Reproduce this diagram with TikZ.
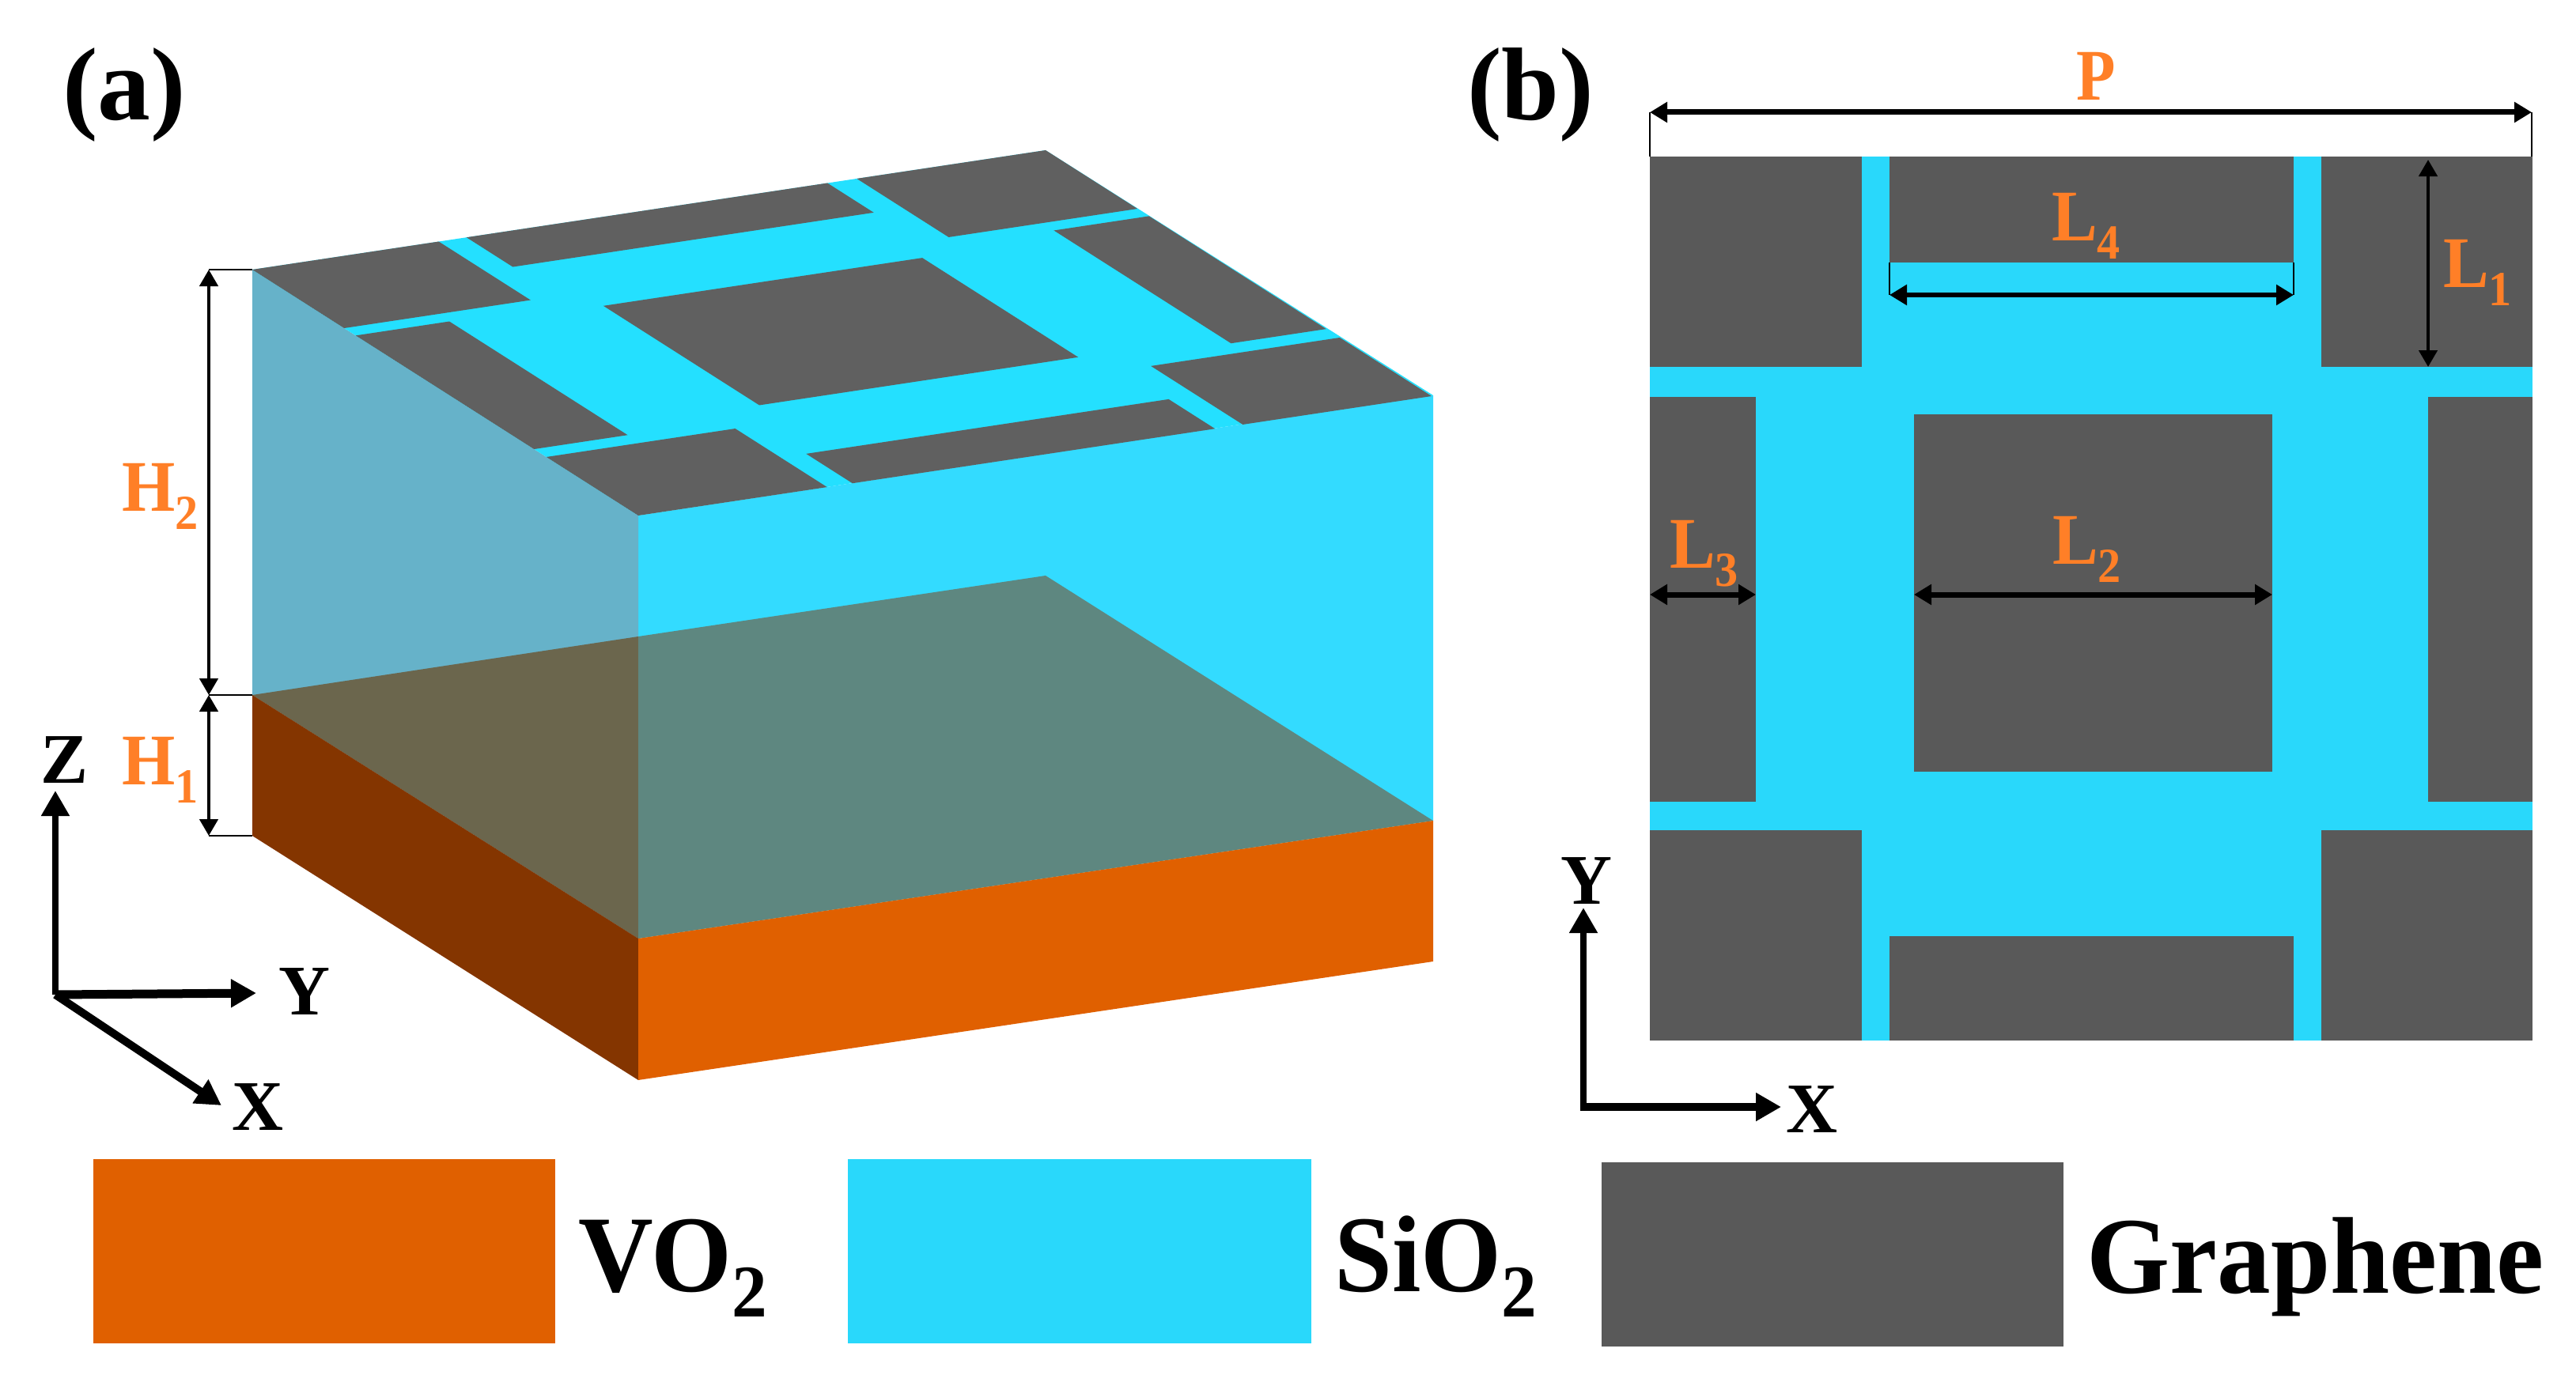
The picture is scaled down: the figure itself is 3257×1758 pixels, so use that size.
\documentclass[tikz,border=0pt]{standalone}
\usepackage{graphicx}
\usepackage{fontspec}
\setmainfont{Liberation Serif}
\usetikzlibrary{arrows.meta}
\definecolor{vofront}{HTML}{E06000}
\definecolor{voside}{HTML}{843500}
\definecolor{sifront}{HTML}{33DBFF}
\definecolor{siside}{HTML}{66B2C9}
\definecolor{sitop}{HTML}{24E0FF}
\definecolor{siplan}{HTML}{29D8FB}
\definecolor{ifleft}{HTML}{6B664D}
\definecolor{ifright}{HTML}{5E8780}
\definecolor{gtop}{HTML}{606060}
\definecolor{gplan}{HTML}{595959}
\definecolor{dimorange}{HTML}{FF7F27}
\newcommand{\isopad}[4]{\fill[gtop]
  ({319+488*#1+1003*#3},{341+311*#1-151*#3}) --
  ({319+488*#2+1003*#3},{341+311*#2-151*#3}) --
  ({319+488*#2+1003*#4},{341+311*#2-151*#4}) --
  ({319+488*#1+1003*#4},{341+311*#1-151*#4}) -- cycle;}
\newcommand{\planpad}[4]{\fill[gplan] (#1,#2) rectangle (#3,#4);}
\newcommand{\dimsub}[2]{\scalebox{.94}[1]{#1\raisebox{-23pt}{\fontsize{62}{62}\selectfont #2}}}
\newcommand{\legsub}[2]{\scalebox{.95}[1]{#1\raisebox{-32pt}{\fontsize{94}{94}\selectfont #2}}}
\tikzset{
  dimtxt/.style={anchor=base west,inner sep=0pt,text=dimorange,font=\fontsize{92}{92}\selectfont\bfseries},
  axtxt/.style={anchor=base west,inner sep=0pt,text=black,font=\fontsize{90}{90}\selectfont\bfseries},
  bigtxt/.style={anchor=base west,inner sep=0pt,text=black,font=\fontsize{131}{131}\selectfont\bfseries},
  legtxt/.style={anchor=base west,inner sep=0pt,text=black,font=\fontsize{138}{138}\selectfont\bfseries},
  dimthin/.style={line width=4.5pt,{Triangle[length=21pt,width=23pt]}-{Triangle[length=21pt,width=23pt]}},
  dimwide/.style={line width=7pt,{Triangle[length=22pt,width=25pt]}-{Triangle[length=22pt,width=25pt]}},
  tick/.style={line width=2.5pt,black},
  axis/.style={line width=8pt,-{Triangle[length=32pt,width=34pt]}},
  axisthick/.style={line width=11pt,-{Triangle[length=32pt,width=34pt]}},
}
\begin{document}
\begin{tikzpicture}[x=1pt,y=-1pt]
\useasboundingbox (0,0) rectangle (3257,1758);
% --- (a) block ---
\fill[sifront] (807,652) -- (1812,500) -- (1812,1038) -- (807,1187) -- cycle;
\fill[siside] (319,341) -- (807,652) -- (807,1187) -- (319,879) -- cycle;
\fill[ifleft] (319,879) -- (807,805) -- (807,1187) -- cycle;
\fill[ifright] (807,805) -- (1322,728) -- (1812,1038) -- (807,1187) -- cycle;
\fill[voside] (319,879) -- (807,1187) -- (807,1366) -- (319,1057) -- cycle;
\fill[vofront] (807,1187) -- (1812,1038) -- (1812,1216) -- (807,1366) -- cycle;
\fill[sitop] (319,341) -- (807,652) -- (1812,500) -- (1322,190) -- cycle;
\isopad{0}{.238}{.762}{1}
\isopad{.268}{.727}{.88}{1}
\isopad{.762}{1}{.762}{1}
\isopad{0}{.12}{.27}{.725}
\isopad{.293}{.697}{.30}{.702}
\isopad{.88}{1}{.27}{.727}
\isopad{0}{.238}{0}{.235}
\isopad{.268}{.73}{0}{.118}
\isopad{.762}{1}{0}{.238}
% --- (a) dimensions ---
\coordinate (h0) at (264,341); \coordinate (h1) at (264,879); \coordinate (h2) at (264,1057);
\coordinate (c0) at (319,341); \coordinate (c1) at (319,879); \coordinate (c2) at (319,1057);
\draw[tick] (h0) -- (c0);
\draw[tick] (h1) -- (c1);
\draw[tick] (h2) -- (c2);
\draw[dimthin] (h0) -- (h1);
\draw[dimthin] (h1) -- (h2);
\node[dimtxt] (H2) at (154,646) {\dimsub{H}{2}};
\node[dimtxt] (H1) at (154,992) {\dimsub{H}{1}};
% --- (a) axes ---
\coordinate (o) at (70,1258); \coordinate (zt) at (70,1000); \coordinate (yt) at (324,1256); \coordinate (xt) at (280,1398);
\draw[axis] (o) -- (zt);
\draw[axisthick] (o) -- (yt);
\draw[axisthick,line width=10pt] (o) -- (xt);
\node[axtxt] (Zlab) at (51,990) {Z};
\node[axtxt] (Ylab) at (352,1283) {Y};
\node[axtxt] (Xlab) at (293,1429) {X};
% --- (b) plan ---
\fill[siplan] (2086,198) rectangle (3202,1316);
\planpad{2086}{198}{2354}{464}
\planpad{2389}{198}{2900}{332}
\planpad{2935}{198}{3202}{464}
\planpad{2086}{502}{2220}{1014}
\planpad{2420}{524}{2873}{976}
\planpad{3070}{502}{3202}{1014}
\planpad{2086}{1050}{2354}{1316}
\planpad{2389}{1184}{2900}{1316}
\planpad{2935}{1050}{3202}{1316}
% --- (b) dimensions ---
\coordinate (p0) at (2086,142); \coordinate (p1) at (3201,142);
\coordinate (p0b) at (2086,198); \coordinate (p1b) at (3201,198);
\draw[tick] (p0) -- (p0b);
\draw[tick] (p1) -- (p1b);
\draw[dimwide] (p0) -- (p1);
\node[dimtxt] (Plab) at (2625,127) {\scalebox{.88}[1]{P}};
\coordinate (l40) at (2389,373); \coordinate (l41) at (2900,373);
\coordinate (l40b) at (2389,332); \coordinate (l41b) at (2900,332);
\draw[tick] (l40) -- (l40b);
\draw[tick] (l41) -- (l41b);
\draw[dimwide,line width=5.5pt] (l40) -- (l41);
\node[dimtxt] (L4lab) at (2594,304) {\dimsub{L}{4}};
\coordinate (l10) at (3070,202); \coordinate (l11) at (3070,464);
\draw[dimthin] (l10) -- (l11);
\node[dimtxt] (L1lab) at (3089,363) {\dimsub{L}{1}};
\coordinate (l20) at (2420,752); \coordinate (l21) at (2873,752);
\draw[dimwide] (l20) -- (l21);
\node[dimtxt] (L2lab) at (2595,713) {\dimsub{L}{2}};
\coordinate (l30) at (2086,752); \coordinate (l31) at (2220,752);
\draw[dimwide] (l30) -- (l31);
\node[dimtxt] (L3lab) at (2111,718) {\dimsub{L}{3}};
% --- (b) axes ---
\coordinate (po) at (2002,1400); \coordinate (pyt) at (2002,1148); \coordinate (pxt) at (2252,1400);
\draw[axis] (po) -- (pyt);
\draw[axisthick,line width=10pt] ([xshift=-4pt]po) -- (pxt);
\node[axtxt] (pYlab) at (1973,1143) {Y};
\node[axtxt] (pXlab) at (2258,1432) {X};
% --- panel letters ---
\node[bigtxt] (pa) at (79,152) {\scalebox{1.02}[1]{(a)}};
\node[bigtxt] (pb) at (1855,152) {(b)};
% --- legend ---
\fill[vofront] (118,1466) rectangle (702,1699);
\fill[siplan] (1072,1466) rectangle (1658,1699);
\fill[gplan] (2025,1470) rectangle (2609,1703);
\node[legtxt] (vo) at (731,1633) {\legsub{VO}{2}};
\node[legtxt] (si) at (1687,1633) {\legsub{SiO}{2}};
\node[legtxt] (gr) at (2638,1635) {\scalebox{.98}[1]{Graphene}};
\end{tikzpicture}
\end{document}
